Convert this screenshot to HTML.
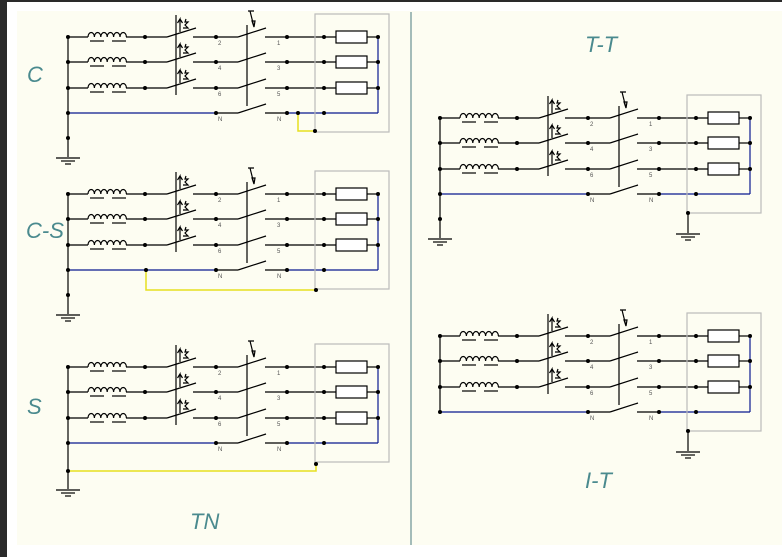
<!DOCTYPE html>
<html><head><meta charset="utf-8"><style>
html,body{margin:0;padding:0;width:782px;height:557px;overflow:hidden;background:#fff}
svg{display:block}
.t{font-family:"Liberation Sans",sans-serif;font-style:italic;fill:#4a8a8e;font-size:22px}
.n{font-family:"Liberation Sans",sans-serif;font-size:6px;fill:#555}
</style></head><body>
<svg width="782" height="557" viewBox="0 0 782 557" xmlns="http://www.w3.org/2000/svg">
<defs>
<g id="blk" stroke-width="1.2" fill="none">
  <line x1="0" y1="0" x2="0" y2="76" stroke="#000"/>
  <g stroke="#000">
    <g id="row">
      <line x1="0" y1="0" x2="20" y2="0"/>
      <path d="M20,0 a3.2,4.5 0 0 1 6.4,0 a3.2,4.5 0 0 1 6.4,0 a3.2,4.5 0 0 1 6.4,0 a3.2,4.5 0 0 1 6.4,0 a3.2,4.5 0 0 1 6.4,0 a3.2,4.5 0 0 1 6.4,0"/>
      <line x1="22" y1="4" x2="36" y2="4"/>
      <line x1="44" y1="4" x2="58" y2="4"/>
      <line x1="58" y1="0" x2="99" y2="0"/>
      <line x1="99" y1="0" x2="128" y2="-9"/>
      <line x1="125" y1="0" x2="170" y2="0"/>
      <line x1="170" y1="0" x2="198" y2="-9"/>
      <line x1="197" y1="0" x2="268" y2="0"/>
      <rect x="268" y="-6" width="31" height="12" fill="#fff"/>
      <line x1="299" y1="0" x2="310" y2="0"/>
      <path d="M112,-5 v-13 l-2.5,4 M112,-18 l2.5,4 M115,-9 h5 l-3,-3 l3,-3 h-3 l1,-3"/>
    </g>
    <use href="#row" y="25"/>
    <use href="#row" y="51"/>
    <line x1="108" y1="-22" x2="108" y2="58"/>
    <line x1="179" y1="-12" x2="179" y2="69"/>
    <path d="M186,-10 l-4,-16 M180,-26 h6 M186,-10 l-2,-6 l3,0 z"/>
    <line x1="148" y1="76" x2="170" y2="76"/>
    <line x1="170" y1="76" x2="198" y2="67"/>
    <line x1="197" y1="76" x2="219" y2="76"/>
  </g>
  <g stroke="#0a1a90">
    <line x1="0" y1="76" x2="148" y2="76"/>
    <line x1="219" y1="76" x2="310" y2="76"/>
    <line x1="310" y1="0" x2="310" y2="76"/>
  </g>
  <g fill="#000">
    <circle cx="0" cy="0" r="2"/><circle cx="0" cy="25" r="2"/><circle cx="0" cy="51" r="2"/><circle cx="0" cy="76" r="2"/>
    <circle cx="77" cy="0" r="2"/><circle cx="77" cy="25" r="2"/><circle cx="77" cy="51" r="2"/>
    <circle cx="148" cy="0" r="2"/><circle cx="148" cy="25" r="2"/><circle cx="148" cy="51" r="2"/><circle cx="148" cy="76" r="2"/>
    <circle cx="219" cy="0" r="2"/><circle cx="219" cy="25" r="2"/><circle cx="219" cy="51" r="2"/><circle cx="219" cy="76" r="2"/>
    <circle cx="256" cy="0" r="2"/><circle cx="256" cy="25" r="2"/><circle cx="256" cy="51" r="2"/><circle cx="256" cy="76" r="2"/>
    <circle cx="310" cy="0" r="2"/><circle cx="310" cy="25" r="2"/><circle cx="310" cy="51" r="2"/>
  </g>
  <rect x="247" y="-23" width="74" height="118" stroke="#bbb" fill="none"/>
</g>
<g id="gnd" stroke="#000" stroke-width="1.2">
  <line x1="-12" y1="0" x2="12" y2="0"/><line x1="-7" y1="3" x2="7" y2="3"/><line x1="-3" y1="6" x2="3" y2="6"/>
</g>
</defs>
<rect x="0" y="0" width="782" height="557" fill="#fff"/>
<rect x="0" y="0" width="7" height="557" fill="#2a2a2a"/>
<rect x="0" y="0" width="782" height="2" fill="#2a2a2a"/>
<rect x="17" y="11" width="765" height="534" fill="#fdfdf2"/>
<line x1="411" y1="12" x2="411" y2="545" stroke="#4a7a80" stroke-width="1"/>

<use href="#blk" x="68" y="37"/>
<line x1="68" y1="113" x2="68" y2="157" stroke="#000" stroke-width="1.2"/>
<circle cx="68" cy="138" r="2"/>
<use href="#gnd" x="68" y="158"/>
<polyline points="298,113 298,131 315,131" fill="none" stroke="#e6e020" stroke-width="1.5"/>
<circle cx="298" cy="113" r="2"/><circle cx="315" cy="131" r="2"/>

<use href="#blk" x="68" y="194"/>
<line x1="68" y1="270" x2="68" y2="314" stroke="#000" stroke-width="1.2"/>
<circle cx="68" cy="295" r="2"/>
<use href="#gnd" x="68" y="315"/>
<polyline points="146,270 146,290 316,290" fill="none" stroke="#e6e020" stroke-width="1.5"/>
<circle cx="146" cy="270" r="2"/><circle cx="316" cy="290" r="2"/>

<use href="#blk" x="68" y="367"/>
<line x1="68" y1="443" x2="68" y2="489" stroke="#000" stroke-width="1.2"/>
<use href="#gnd" x="68" y="490"/>
<polyline points="68,471 316,471 316,464" fill="none" stroke="#e6e020" stroke-width="1.5"/>
<circle cx="68" cy="471" r="2"/><circle cx="316" cy="464" r="2"/>

<use href="#blk" x="440" y="118"/>
<line x1="440" y1="194" x2="440" y2="238" stroke="#000" stroke-width="1.2"/>
<circle cx="440" cy="219" r="2"/>
<use href="#gnd" x="440" y="239"/>
<line x1="688" y1="213" x2="688" y2="233" stroke="#000" stroke-width="1.2"/>
<circle cx="688" cy="213" r="2"/>
<use href="#gnd" x="688" y="234"/>

<use href="#blk" x="440" y="336"/>
<line x1="688" y1="431" x2="688" y2="451" stroke="#000" stroke-width="1.2"/>
<circle cx="688" cy="431" r="2"/>
<use href="#gnd" x="688" y="452"/>

<g class="n">
<text x="218" y="45">2</text><text x="218" y="70">4</text><text x="218" y="96">6</text><text x="218" y="121">N</text>
<text x="277" y="45">1</text><text x="277" y="70">3</text><text x="277" y="96">5</text><text x="277" y="121">N</text>
<text x="218" y="202">2</text><text x="218" y="227">4</text><text x="218" y="253">6</text><text x="218" y="278">N</text>
<text x="277" y="202">1</text><text x="277" y="227">3</text><text x="277" y="253">5</text><text x="277" y="278">N</text>
<text x="218" y="375">2</text><text x="218" y="400">4</text><text x="218" y="426">6</text><text x="218" y="451">N</text>
<text x="277" y="375">1</text><text x="277" y="400">3</text><text x="277" y="426">5</text><text x="277" y="451">N</text>
<text x="590" y="126">2</text><text x="590" y="151">4</text><text x="590" y="177">6</text><text x="590" y="202">N</text>
<text x="649" y="126">1</text><text x="649" y="151">3</text><text x="649" y="177">5</text><text x="649" y="202">N</text>
<text x="590" y="344">2</text><text x="590" y="369">4</text><text x="590" y="395">6</text><text x="590" y="420">N</text>
<text x="649" y="344">1</text><text x="649" y="369">3</text><text x="649" y="395">5</text><text x="649" y="420">N</text>
</g>

<text class="t" x="27" y="82">C</text>
<text class="t" x="26" y="238">C-S</text>
<text class="t" x="27" y="414">S</text>
<text class="t" x="190" y="529">TN</text>
<text class="t" x="585" y="52">T-T</text>
<text class="t" x="585" y="488">I-T</text>
</svg>
</body></html>
